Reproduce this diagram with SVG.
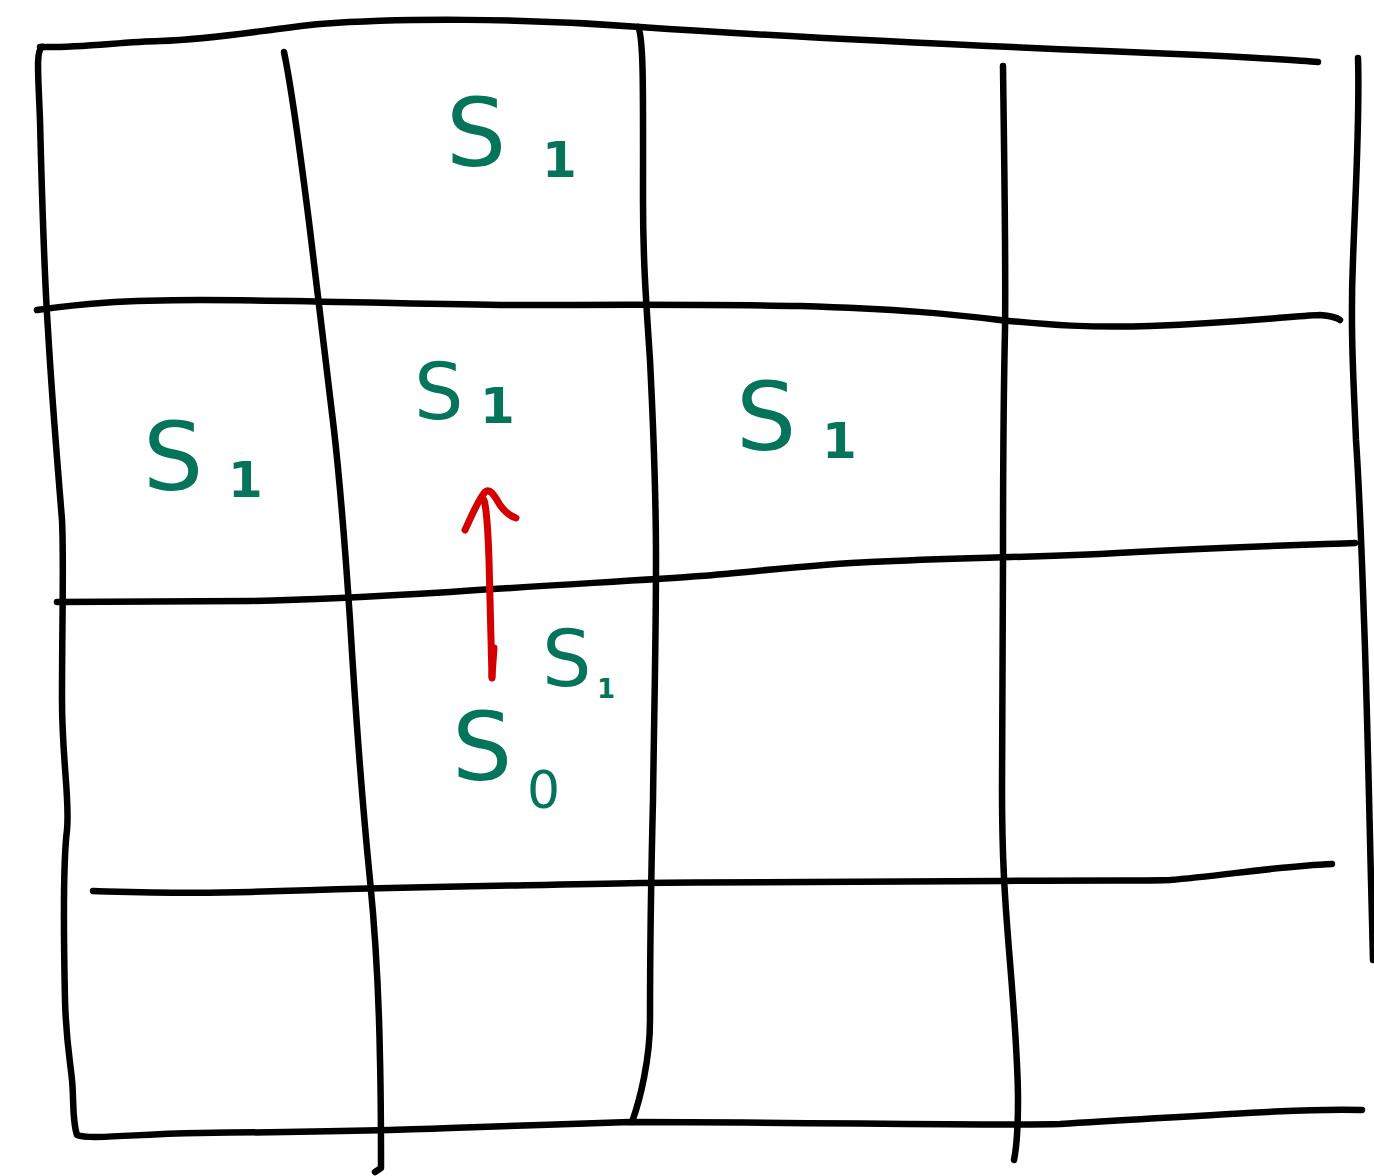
<svg xmlns="http://www.w3.org/2000/svg" width="1374" height="1176" viewBox="0 0 1374 1176">
<style>
.g{fill:none;stroke:#000;stroke-width:6.5;stroke-linecap:round;stroke-linejoin:round}
.r{fill:none;stroke:#D40000;stroke-width:7;stroke-linecap:round;stroke-linejoin:round}
.t{fill:#04745A;font-family:"DejaVu Sans",sans-serif}
.big{font-size:95px}
.mid{font-size:78px}
.one{font-size:50px;font-weight:bold}
</style>
<rect width="1374" height="1176" fill="#fff"/>
<g id="grid">
<path class="g" d="M40,47 C80,48 120,42 160,41 C220,39 260,30 320,24 C400,18 520,18 640,27 C800,38 1000,47 1200,55 C1260,58 1300,60 1318,62"/>
<path class="g" d="M42,47 C36,52 38,70 40,120 C42,200 46,300 48,330 C52,400 58,470 62,520 C64,560 62,620 62,700 C62,760 70,800 67,830 C62,870 64,950 65,1000 C66,1040 70,1060 72,1080 C74,1100 72,1120 77,1135 C90,1140 130,1134 200,1133 C300,1132 400,1130 450,1128 C520,1126 560,1124 630,1122 C800,1122 1000,1126 1060,1124 C1200,1116 1300,1108 1362,1110"/>
<path class="g" d="M1358,58 C1360,120 1355,200 1353,260 C1350,330 1354,390 1356,440 C1360,500 1362,560 1364,620 C1367,700 1369,800 1371,880 C1372,920 1373,950 1373,960"/>
<path class="g" d="M284,52 C292,90 300,150 310,230 C318,300 326,360 334,430 C342,500 346,560 350,620 C356,720 362,800 370,880 C376,940 379,1000 380,1060 C381,1100 381,1150 381,1168 L375,1172"/>
<path class="g" d="M638,27 C644,36 643,100 643,200 C643,260 646,300 650,360 C654,440 656,500 656,560 C656,640 654,720 653,800 C651,880 650,950 650,1020 C650,1060 640,1100 632,1122"/>
<path class="g" d="M1003,66 C1004,150 1006,260 1005,330 C1003,420 1003,500 1003,560 C1003,650 1002,720 1002,790 C1002,860 1005,900 1009,950 C1014,1010 1018,1060 1018,1100 C1018,1130 1016,1150 1014,1160"/>
<path class="g" d="M37,310 C80,304 120,300 200,300 C300,300 400,304 500,305 C600,305 700,304 800,306 C900,309 950,314 1000,320 C1050,325 1090,328 1150,326 C1250,322 1290,316 1320,315 C1335,316 1340,320 1340,320"/>
<path class="g" d="M57,602 L250,601 C300,600 350,598 450,592 C550,585 650,580 700,576 C760,571 820,564 870,562 C950,558 1000,558 1100,554 C1200,548 1300,545 1355,543"/>
<path class="g" d="M93,891 C130,892 180,894 250,892 C400,887 500,886 640,883 C750,882 850,882 1000,881 C1100,880 1150,881 1170,880 C1220,876 1280,866 1332,864"/>
</g>
<g id="arrow">
<path class="r" d="M492,678 C491,640 490,600 489,560 C488,530 487,510 484,500"/>
<path class="r" d="M465,530 C472,515 478,500 485,492 C490,488 494,495 500,505 C505,512 510,516 516,518"/>
<path class="r" d="M494,648 L492,676"/>
</g>
<g id="label-top">
<text class="t big" x="446" y="166">S</text>
<text class="t one" x="542" y="177">1</text>
</g>
<g id="label-left">
<text class="t big" x="143" y="490">S</text>
<text class="t one" x="228" y="497">1</text>
</g>
<g id="label-center">
<text class="t mid" x="414" y="419">S</text>
<text class="t one" x="480" y="423">1</text>
</g>
<g id="label-right">
<text class="t big" x="736" y="450">S</text>
<text class="t one" x="822" y="458">1</text>
</g>
<g id="label-lower">
<text class="t mid" x="542" y="686">S</text>
<text class="t" style="font-size:26px;font-weight:bold" x="597" y="698">1</text>
</g>
<g id="label-s0">
<text class="t big" x="452" y="780">S</text>
<text class="t" style="font-size:52px" x="527" y="808">0</text>
</g>
</svg>
